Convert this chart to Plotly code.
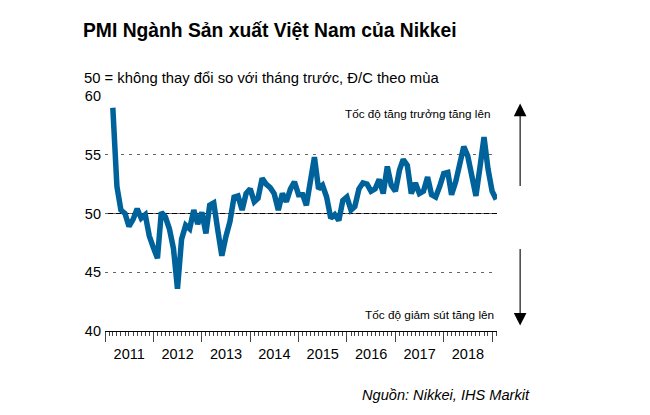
"""
PMI Ngành Sản xuất Việt Nam của Nikkei.
"""

import pandas as pd
import plotly.graph_objects as go


# =========================================================
# DỮ LIỆU
# =========================================================

START_MONTH = "2011-03-01"

PMI_VALUES = [
    # 2011 (T3 - T12)
    59.0, 52.3, 50.3, 50.0, 48.9, 49.5, 50.4, 49.6, 49.9, 48.1,
    # 2012
    47.1, 46.2, 50.1, 49.7, 48.7, 47.0, 43.6, 47.8, 49.0, 48.7, 50.3, 49.1,
    # 2013
    50.1, 48.3, 50.7, 50.9, 48.6, 46.4, 48.0, 49.3, 51.4, 51.5, 50.3, 51.7,
    # 2014
    52.1, 51.0, 51.3, 53.0, 52.5, 52.2, 51.7, 50.3, 51.7, 51.0, 52.1, 52.7,
    # 2015
    51.6, 51.6, 50.7, 53.1, 54.8, 52.1, 52.4, 51.4, 49.6, 49.9, 49.4, 51.1,
    # 2016
    51.4, 50.3, 50.6, 52.1, 52.6, 52.5, 51.9, 52.1, 52.9, 51.7, 54.0, 52.4,
    # 2017
    51.9, 53.7, 54.6, 54.1, 51.7, 52.6, 51.7, 51.9, 53.1, 51.6, 51.4, 52.3,
    # 2018
    53.4, 53.5, 51.6, 52.7, 54.4, 55.7, 54.9, 53.4, 51.5, 53.9, 56.5, 53.8,
    # 2019 (T1 - T2)
    51.9, 51.2,
]

MONTHS = pd.date_range(START_MONTH, periods=len(PMI_VALUES), freq="MS")

Y_TICKS = [40, 45, 50, 55, 60]

TITLE = "PMI Ngành Sản xuất Việt Nam của Nikkei"
SUBTITLE = "50 = không thay đổi so với tháng trước, Đ/C theo mùa"
SOURCE = "Nguồn: Nikkei, IHS Markit"
UP_TEXT = "Tốc độ tăng trưởng tăng lên"
DOWN_TEXT = "Tốc độ giảm sút tăng lên"

FONT = "Liberation Sans, Arial, sans-serif"
LINE_COLOR = "#00629b"


# =========================================================
# BIỂU ĐỒ
# =========================================================

fig = go.Figure()

fig.add_trace(
    go.Scatter(
        x=MONTHS,
        y=PMI_VALUES,
        mode="lines",
        line=dict(color=LINE_COLOR, width=5.5),
        showlegend=False,
        cliponaxis=False,
    )
)

# đường 50
fig.add_shape(
    type="line",
    xref="paper", x0=0, x1=1,
    yref="y", y0=50, y1=50,
    line=dict(color="black", width=1),
    layer="below",
)

# trang html có lề 8px, nên khung hình nhỏ hơn cửa sổ một chút
fig.update_layout(
    width=642,
    height=407,
    margin=dict(l=97, r=153, t=88, b=84),
    paper_bgcolor="white",
    plot_bgcolor="white",
    font=dict(family=FONT, color="black"),
    showlegend=False,
)

fig.update_xaxes(
    type="date",
    range=["2011-01-01", "2019-02-07"],
    dtick="M12",
    tick0="2011-01-01",
    ticklabelmode="period",
    tickformat="%Y",
    ticks="outside",
    ticklen=10,
    tickcolor="#444",
    tickwidth=1,
    minor=dict(
        dtick="M1",
        tick0="2011-01-01",
        ticks="outside",
        ticklen=4,
        tickcolor="#444",
        tickwidth=1,
    ),
    showline=True,
    linecolor="black",
    linewidth=1,
    showgrid=False,
    tickfont=dict(size=14.5),
)

fig.update_yaxes(
    range=[40, 60],
    tickvals=Y_TICKS,
    showgrid=True,
    gridcolor="#666",
    gridwidth=1,
    griddash="3px,5px",
    zeroline=False,
    showline=False,
    ticks="",
    ticklabelstandoff=3,
    tickfont=dict(size=14.5),
)

# tiêu đề, phụ đề, nguồn, chú thích
fig.add_annotation(
    text=f"<b>{TITLE}</b>",
    xref="paper", yref="paper",
    x=-0.062, y=1.279,
    xanchor="left", yanchor="middle",
    showarrow=False,
    font=dict(size=19.3),
)

fig.add_annotation(
    text=SUBTITLE,
    xref="paper", yref="paper",
    x=-0.058, y=1.078,
    xanchor="left", yanchor="middle",
    showarrow=False,
    font=dict(size=14.8),
)

fig.add_annotation(
    text=f"<i>{SOURCE}</i>",
    xref="paper", yref="paper",
    x=1.089, y=-0.272,
    xanchor="right", yanchor="middle",
    showarrow=False,
    font=dict(size=14.6),
)

fig.add_annotation(
    text=UP_TEXT,
    xref="paper", yref="paper",
    x=0.988, y=0.925,
    xanchor="right", yanchor="middle",
    showarrow=False,
    font=dict(size=11.7),
)

fig.add_annotation(
    text=DOWN_TEXT,
    xref="paper", yref="paper",
    x=0.998, y=0.066,
    xanchor="right", yanchor="middle",
    showarrow=False,
    font=dict(size=11.8),
)

# mũi tên lên / xuống
fig.add_annotation(
    xref="paper", yref="paper",
    x=1.059, y=0.968,
    ax=0, ay=84,
    text="",
    showarrow=True,
    arrowhead=2,
    arrowsize=2.3,
    arrowwidth=1.1,
    arrowcolor="black",
)

fig.add_annotation(
    xref="paper", yref="paper",
    x=1.059, y=0.023,
    ax=0, ay=-78,
    text="",
    showarrow=True,
    arrowhead=2,
    arrowsize=2.3,
    arrowwidth=1.1,
    arrowcolor="black",
)

fig.write_html("out.html")
